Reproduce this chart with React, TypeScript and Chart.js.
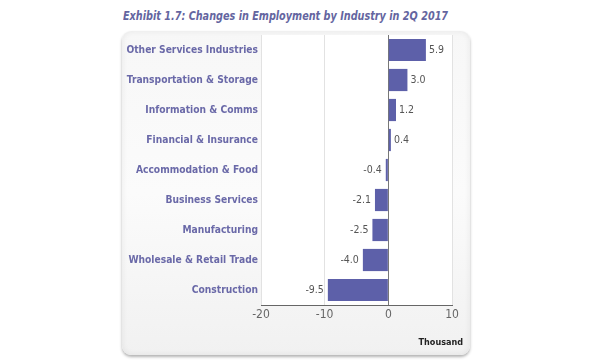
import React, { useEffect, useRef } from "react";
import { Chart, registerables } from "chart.js";

Chart.register(...registerables);

const TITLE = "Exhibit 1.7: Changes in Employment by Industry in 2Q 2017";
const UNIT = "Thousand";
const categories = [
  "Other Services Industries",
  "Transportation & Storage",
  "Information & Comms",
  "Financial & Insurance",
  "Accommodation & Food",
  "Business Services",
  "Manufacturing",
  "Wholesale & Retail Trade",
  "Construction",
];
const values = [5.9, 3.0, 1.2, 0.4, -0.4, -2.1, -2.5, -4.0, -9.5];
const xMin = -20;
const xMax = 10;
const xStep = 10;

const NARROW = "'DejaVu Sans Condensed', 'DejaVu Sans', sans-serif";
const PURPLE = "#6a69a8";
const BAR = "#5d60a9";

const plotBg = {
  id: "plotBg",
  beforeDraw(chart: any) {
    const { ctx, chartArea } = chart;
    ctx.save();
    ctx.fillStyle = "#ffffff";
    ctx.fillRect(chartArea.left, chartArea.top, chartArea.right - chartArea.left, chartArea.bottom - chartArea.top);
    ctx.restore();
  },
};

const valueLabels = {
  id: "valueLabels",
  afterDatasetsDraw(chart: any) {
    const { ctx } = chart;
    const meta = chart.getDatasetMeta(0);
    const data = chart.data.datasets[0].data as number[];
    ctx.save();
    ctx.font = "10.5px " + NARROW;
    ctx.fillStyle = "#555555";
    ctx.textBaseline = "middle";
    meta.data.forEach((el: any, i: number) => {
      const v = data[i];
      const txt = v.toFixed(1);
      if (v >= 0) {
        ctx.textAlign = "left";
        ctx.fillText(txt, el.x + 3, el.y);
      } else {
        ctx.textAlign = "right";
        ctx.fillText(txt, el.x - 4, el.y);
      }
    });
    ctx.restore();
  },
};

export default function App() {
  const ref = useRef<HTMLCanvasElement | null>(null);

  useEffect(() => {
    document.body.style.margin = "0";
    if (!ref.current) return;
    const chart = new Chart(ref.current, {
      type: "bar",
      data: {
        labels: categories,
        datasets: [
          {
            data: values,
            backgroundColor: BAR,
            borderWidth: 0,
            barPercentage: 0.74,
            categoryPercentage: 1,
          },
        ],
      },
      options: {
        indexAxis: "y",
        responsive: false,
        animation: false,
        layout: { padding: { left: 0, right: 148, top: 35, bottom: 0 } },
        plugins: {
          legend: { display: false },
          title: { display: false },
          tooltip: { enabled: false },
        },
        scales: {
          x: {
            type: "linear",
            min: xMin,
            max: xMax,
            ticks: {
              stepSize: xStep,
              color: "#666666",
              font: { size: 12, family: NARROW },
              padding: 3,
            },
            grid: {
              color: (c: any) => (c.tick && c.tick.value === 0 ? "#777777" : "#e2e2e2"),
              drawTicks: false,
              tickLength: 0,
            },
            border: { display: true, color: "#666666", width: 1 },
            afterFit: (s: any) => {
              s.height = 58;
            },
          },
          y: {
            type: "category",
            ticks: {
              color: PURPLE,
              font: { size: 10.2, weight: "bold", family: NARROW },
              padding: 3,
            },
            grid: { display: false, drawTicks: false, tickLength: 0 },
            border: { display: false },
            afterFit: (s: any) => {
              s.width = 261;
            },
          },
        },
      },
      plugins: [plotBg, valueLabels],
    } as any);
    return () => chart.destroy();
  }, []);

  return (
    <div style={{ position: "relative", width: 600, height: 363, overflow: "hidden", background: "#fff" }}>
      <div
        style={{
          position: "absolute",
          left: 123,
          top: 8,
          fontFamily: NARROW,
          fontStyle: "italic",
          fontWeight: "bold",
          fontSize: 12.5,
          color: "#6465a0",
          whiteSpace: "nowrap",
          transform: "scaleX(0.86)",
          transformOrigin: "left center",
        }}
      >
        {TITLE}
      </div>
      <div
        style={{
          position: "absolute",
          left: 122,
          top: 31,
          width: 348,
          height: 324,
          borderRadius: 9,
          background: "linear-gradient(#f7f7f7, #fbfbfb 50%, #f1f1f1)",
          boxShadow: "inset 0 0 6px rgba(0,0,0,0.07), 0 2px 3px rgba(0,0,0,0.3)",
        }}
      />
      <canvas ref={ref} width={600} height={363} style={{ position: "absolute", left: 0, top: 0 }} />
      <div
        style={{
          position: "absolute",
          right: 600 - 463,
          top: 337,
          fontFamily: NARROW,
          fontWeight: "bold",
          fontSize: 9,
          color: "#222",
        }}
      >
        {UNIT}
      </div>
    </div>
  );
}
